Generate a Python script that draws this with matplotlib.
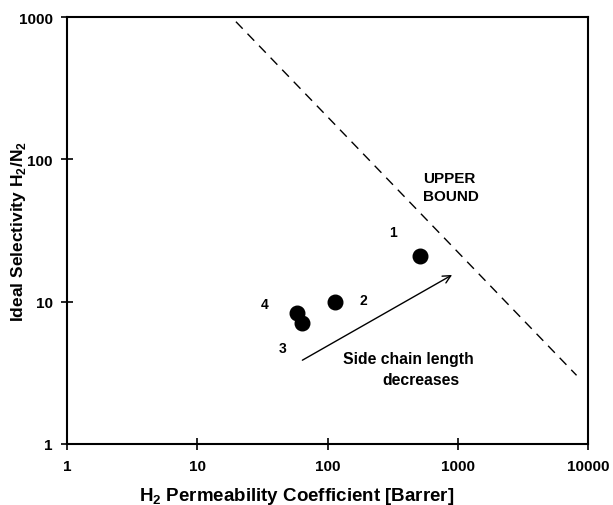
import numpy as np
import matplotlib
matplotlib.use('Agg')
import matplotlib.pyplot as plt

plt.rcParams['font.family'] = ['Liberation Sans', 'DejaVu Sans']
plt.rcParams['font.weight'] = 'bold'
plt.rcParams['mathtext.fontset'] = 'custom'
plt.rcParams['mathtext.bf'] = 'Liberation Sans:bold'
plt.rcParams['mathtext.rm'] = 'Liberation Sans:bold'

# polymer samples 1-4
sample_ids   = ['1', '2', '3', '4']
permeability = [510, 113, 64, 58]      # H2 permeability [Barrer]
selectivity  = [20.8, 9.9, 7.1, 8.3]   # H2/N2 ideal selectivity
label_x      = [318, 187, 45, 33]
label_y      = [30.8, 10.3, 4.7, 9.6]

# upper bound line end points
bound_x = [19.8, 8100]
bound_y = [930, 3.03]

# trend arrow
arrow_start = (64, 3.87)
arrow_end   = (900, 15.4)

xticks = [1, 10, 100, 1000, 10000]
yticks = [1, 10, 100, 1000]

fig = plt.figure(figsize=(6.13, 5.06), dpi=100)
ax = fig.add_axes([0.109, 0.121, 0.851, 0.843])

ax.plot(bound_x, bound_y, color='black', lw=1.0, dashes=(7, 5))
ax.plot(permeability, selectivity, 'o', color='black', markersize=10.5, zorder=3)

for sid, lx, ly in zip(sample_ids, label_x, label_y):
    ax.text(lx, ly, sid, fontsize=10, fontweight='bold', ha='center', va='center')

ax.text(541, 64, 'UPPER\nBOUND', fontsize=11, fontweight='bold', ha='left', va='center',
        linespacing=1.3)
ax.text(415, 4.0, 'Side chain length', fontsize=11.3, fontweight='bold', ha='center', va='center')
ax.text(522, 2.85, 'decreases', fontsize=11.3, fontweight='bold', ha='center', va='center')

ax.annotate('', xy=arrow_end, xytext=arrow_start,
            arrowprops=dict(arrowstyle='->', color='black', lw=1.0,
                            mutation_scale=14, shrinkA=0, shrinkB=0))

ax.set_xscale('log')
ax.set_yscale('log')
ax.set_xlim(1, 10000)
ax.set_ylim(1, 1000)
ax.set_xticks(xticks)
ax.set_xticklabels([str(t) for t in xticks])
ax.set_yticks(yticks)
ax.set_yticklabels([str(t) for t in yticks])
ax.minorticks_off()
ax.tick_params(axis='both', which='major', direction='inout', length=8, width=1.2,
               labelsize=11)
ax.tick_params(axis='x', pad=7)
ax.tick_params(axis='y', pad=6)
for lab in ax.get_xticklabels() + ax.get_yticklabels():
    lab.set_fontweight('bold')
for sp in ax.spines.values():
    sp.set_linewidth(1.5)

ax.set_xlabel(r'H$_\mathbf{2}$ Permeability Coefficient [Barrer]', fontsize=13.5,
              fontweight='bold')
ax.set_ylabel(r'Ideal Selectivity H$_\mathbf{2}$/N$_\mathbf{2}$', fontsize=12.5,
              fontweight='bold')
ax.xaxis.set_label_coords(0.441, -0.096)
ax.yaxis.set_label_coords(-0.074, 0.5)

fig.savefig('out.png', dpi=100)
